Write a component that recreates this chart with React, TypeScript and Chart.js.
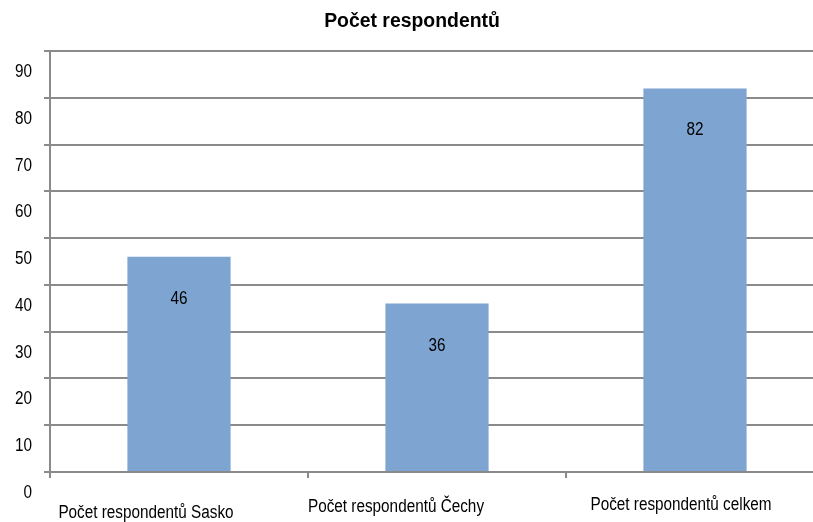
import React, { useEffect, useRef } from "react";
import { Chart, registerables } from "chart.js";

Chart.register(...registerables);

const categories = ["Počet respondentů Sasko", "Počet respondentů Čechy", "Počet respondentů celkem"];
const values = [46, 36, 82];
const chartTitle = "Počet respondentů";
const yMax = 90;
const yStep = 10;

const FONT = "'Liberation Sans', Arial, sans-serif";
const GRID = "#8a8a8a";
const NARROW = 0.85;

const labelOffsets = [
  { dx: -33, dy: 41 },
  { dx: -41, dy: 35 },
  { dx: -14, dy: 33 },
];

function drawText(ctx: any, text: string, x: number, y: number, font: string, sx: number, align: string) {
  ctx.save();
  ctx.font = font;
  ctx.textAlign = align;
  ctx.textBaseline = "middle";
  ctx.fillStyle = "#000";
  ctx.translate(x, y);
  ctx.scale(sx, 1);
  ctx.fillText(text, 0, 0);
  ctx.restore();
}

const overlayPlugin = {
  id: "overlay",
  afterDraw(chart: any) {
    const ctx = chart.ctx;
    const x = chart.scales.x;
    const y = chart.scales.y;
    // title
    drawText(ctx, chartTitle, 412, 21, `bold 20px ${FONT}`, 0.97, "center");
    // y tick labels (drawn half a step below their gridline, as in the source)
    y.ticks.forEach((t: any) => {
      const py = y.getPixelForValue(t.value) + 21;
      drawText(ctx, String(t.value), 32, py, `18px ${FONT}`, NARROW, "right");
    });
    // value labels
    const meta = chart.getDatasetMeta(0);
    meta.data.forEach((bar: any, i: number) => {
      drawText(ctx, String(values[i]), bar.x, bar.y + 42, `18px ${FONT}`, NARROW, "center");
    });
    // category labels
    categories.forEach((c, i) => {
      const px = x.getPixelForValue(i);
      drawText(ctx, c, px + labelOffsets[i].dx, y.bottom + labelOffsets[i].dy, `18px ${FONT}`, NARROW, "center");
    });
  },
};

export default function App() {
  const ref = useRef<HTMLCanvasElement>(null);
  useEffect(() => {
    const chart = new Chart(ref.current!, {
      type: "bar",
      data: {
        labels: categories,
        datasets: [
          {
            data: values,
            backgroundColor: "#7ea4d1",
            borderWidth: 0,
            categoryPercentage: 1,
            barPercentage: 0.4,
          },
        ],
      },
      options: {
        responsive: false,
        animation: false,
        layout: { padding: { top: 51, left: 0, right: 0, bottom: 0 } },
        plugins: { legend: { display: false }, title: { display: false }, tooltip: { enabled: false } },
        scales: {
          x: {
            offset: true,
            grid: { offset: true, drawOnChartArea: false, drawTicks: true, tickLength: 6, color: GRID, lineWidth: 2 },
            border: { display: true, color: GRID, width: 2 },
            ticks: { display: false },
            afterFit: (s: any) => {
              s.height = 50;
            },
          },
          y: {
            min: 0,
            max: yMax,
            ticks: {
              stepSize: yStep,
              color: "rgba(0,0,0,0)",
              font: { family: FONT, size: 18 },
            },
            grid: { color: GRID, lineWidth: 2, tickLength: 6, drawTicks: true },
            border: { display: true, color: GRID, width: 2 },
            afterFit: (s: any) => {
              s.width = 50;
            },
          },
        },
      },
      plugins: [overlayPlugin],
    });
    return () => chart.destroy();
  }, []);
  return (
    <div style={{ position: "fixed", left: 0, top: 0, width: 813, height: 522, overflow: "hidden", background: "#fff" }}>
      <canvas ref={ref} width={824} height={522} style={{ display: "block" }} />
    </div>
  );
}
